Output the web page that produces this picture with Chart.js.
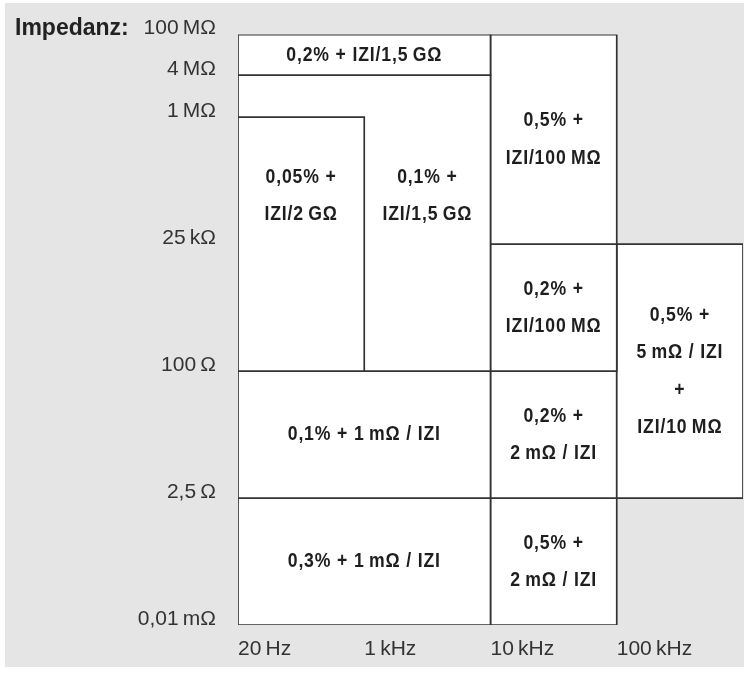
<!DOCTYPE html>
<html>
<head>
<meta charset="utf-8">
<script src="https://cdn.jsdelivr.net/npm/chart.js@4/dist/chart.umd.min.js"></script>
<style>
	body { margin: 0; background: #fff; }
	#wrap { position: relative; width: 750px; height: 674px; }
</style>
</head>
<body>
<div id="wrap"><canvas id="accuracyChart"></canvas></div>
<script>
// frequency ticks (x) and impedance ticks (y); the impedance axis is schematic, so each label has a row position
var freqTicks = [0, 1, 2, 3];
var freqLabels = ['20\u2009Hz', '1\u2009kHz', '10\u2009kHz', '100\u2009kHz'];
var impedanceRows = [0, 1, 2, 3, 4, 4.33, 4.65];
var impedanceLabels = ['0,01\u2009m\u03a9', '2,5\u2009\u03a9', '100\u2009\u03a9', '25\u2009k\u03a9', '1\u2009M\u03a9', '4\u2009M\u03a9', '100\u2009M\u03a9'];

// accuracy fields: [freq from, freq to, row from, row to]
var fieldSpans = [
	[0, 2, 4.33, 4.65],
	[0, 1, 2, 4],
	[0, 2, 2, 4.33],
	[2, 3, 3, 4.65],
	[2, 3, 2, 3],
	[3, 4, 1, 3],
	[0, 2, 1, 2],
	[2, 3, 1, 2],
	[0, 2, 0, 1],
	[2, 3, 0, 1]
];
var fieldTexts = [
	['0,2% + IZI/1,5\u2009G\u03a9'],
	['0,05% +', 'IZI/2\u2009G\u03a9'],
	['0,1% +', 'IZI/1,5\u2009G\u03a9'],
	['0,5% +', 'IZI/100\u2009M\u03a9'],
	['0,2% +', 'IZI/100\u2009M\u03a9'],
	['0,5% +', '5\u2009m\u03a9 / IZI', '+', 'IZI/10\u2009M\u03a9'],
	['0,1% + 1\u2009m\u03a9 / IZI'],
	['0,2% +', '2\u2009m\u03a9 / IZI'],
	['0,3% + 1\u2009m\u03a9 / IZI'],
	['0,5% +', '2\u2009m\u03a9 / IZI']
];
// text centre (freq, row) where it is not the middle of the field
var textAnchors = [null, [0.5, 3.38], [1.5, 3.38], null, null, null, null, null, null, null];

var LINE = '#333';
var PANEL = '#e5e5e5';
var AXIS_FONT = { family: '"Liberation Sans", Arial, sans-serif', size: 21 };

function fieldPoints(s) {
	return [
		{x: s[0], y: s[2]}, {x: s[1], y: s[2]}, {x: s[1], y: s[3]},
		{x: s[0], y: s[3]}, {x: s[0], y: s[2]}
	];
}

var datasets = fieldSpans.map(function(s) {
	return {
		data: fieldPoints(s),
		showLine: true,
		fill: 'shape',
		backgroundColor: '#fff',
		borderColor: LINE,
		borderWidth: 1.7,
		borderJoinStyle: 'miter',
		pointRadius: 0,
		tension: 0,
		order: 2
	};
});
// the small 0,05% field sits on top of the L-shaped 0,1% field
datasets[1].order = 0;
datasets[2].order = 1;

var panelPlugin = {
	id: 'panel',
	beforeDraw: function(chart) {
		var ctx = chart.ctx;
		ctx.save();
		ctx.fillStyle = '#fff';
		ctx.fillRect(0, 0, chart.width, chart.height);
		ctx.fillStyle = PANEL;
		ctx.fillRect(5, 3, 739, 664);
		ctx.fillStyle = '#222';
		ctx.font = 'bold 23px "Liberation Sans", Arial, sans-serif';
		ctx.textAlign = 'left';
		ctx.textBaseline = 'alphabetic';
		ctx.fillText('Impedanz:', 15, 35);
		ctx.restore();
	}
};

var textPlugin = {
	id: 'fieldText',
	afterDatasetsDraw: function(chart) {
		var ctx = chart.ctx;
		var xs = chart.scales.x;
		var ys = chart.scales.y;
		var squeeze = 0.84;
		ctx.save();
		ctx.fillStyle = '#1e1e1e';
		ctx.font = 'bold 21px "Liberation Sans", Arial, sans-serif';
		ctx.letterSpacing = '1px';
		ctx.textAlign = 'center';
		ctx.textBaseline = 'middle';
		fieldSpans.forEach(function(s, i) {
			var a = textAnchors[i] || [(s[0] + s[1]) / 2, (s[2] + s[3]) / 2];
			var cx = xs.getPixelForValue(a[0]);
			var cy = ys.getPixelForValue(a[1]);
			var lines = fieldTexts[i];
			var lh = 37.5;
			lines.forEach(function(t, k) {
				ctx.save();
				ctx.translate(cx, cy + (k - (lines.length - 1) / 2) * lh);
				ctx.scale(squeeze, 1);
				ctx.fillText(t, 0, 0);
				ctx.restore();
			});
		});
		ctx.restore();
	}
};

new Chart(document.getElementById('accuracyChart'), {
	type: 'scatter',
	data: { datasets: datasets },
	options: {
		responsive: true,
		maintainAspectRatio: false,
		animation: false,
		layout: { padding: { left: 0, top: 33, right: 7, bottom: 0 } },
		plugins: { legend: { display: false }, tooltip: { enabled: false } },
		scales: {
			x: {
				type: 'linear',
				min: 0,
				max: 4,
				grid: { display: false, drawTicks: false },
				border: { display: false },
				afterFit: function(scale) { scale.height = 49; },
				afterBuildTicks: function(scale) {
					scale.ticks = freqTicks.map(function(v) { return {value: v}; });
				},
				ticks: {
					align: 'start',
					padding: 12,
					color: '#333',
					font: AXIS_FONT,
					maxRotation: 0,
					autoSkip: false,
					callback: function(v) { return freqLabels[freqTicks.indexOf(v)]; }
				}
			},
			y: {
				type: 'linear',
				min: 0,
				max: 4.65,
				grid: { display: false, drawTicks: false },
				border: { display: false },
				afterFit: function(scale) { scale.width = 238; },
				afterBuildTicks: function(scale) {
					scale.ticks = impedanceRows.map(function(v) { return {value: v}; });
				},
				ticks: {
					padding: 22,
					labelOffset: -6,
					color: '#333',
					font: AXIS_FONT,
					autoSkip: false,
					callback: function(v) { return impedanceLabels[impedanceRows.indexOf(v)]; }
				}
			}
		}
	},
	plugins: [panelPlugin, textPlugin]
});
</script>
</body>
</html>
